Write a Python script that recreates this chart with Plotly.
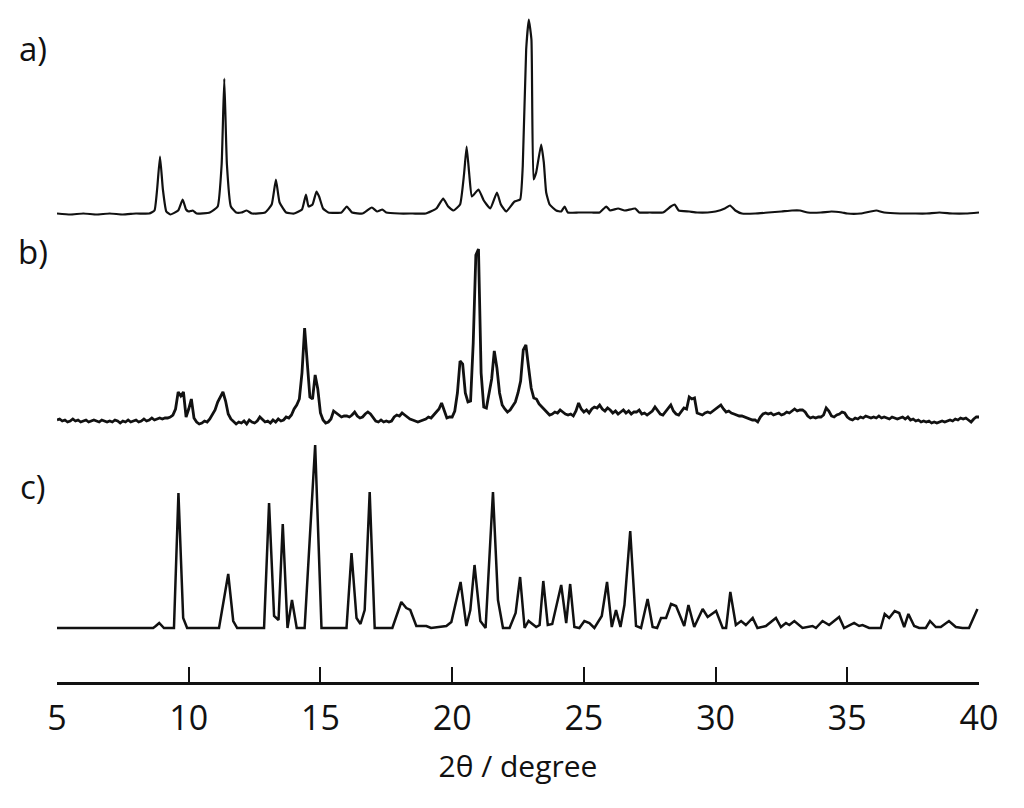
import numpy as np
import plotly.graph_objects as go

# ---------------- data (2theta in degree, intensity in arbitrary units) ----------------
# a) measured pattern
a_2theta = [5.0, 5.5, 6.0, 6.5, 7.0, 7.5, 8.0, 8.5, 8.7, 8.8, 8.91, 9.02, 9.15, 9.3, 9.6, 9.77, 9.9, 10.0,
            10.15, 10.3, 10.8, 11.1, 11.25, 11.35, 11.45, 11.6, 11.8, 12.0, 12.2, 12.4, 12.9, 13.15, 13.31,
            13.45, 13.7, 14.0, 14.3, 14.45, 14.55, 14.7, 14.85, 14.95, 15.1, 15.3, 15.8, 16.0, 16.2,
            16.6, 16.95, 17.15, 17.35, 17.5, 18.0, 18.5, 19.0, 19.4, 19.66, 19.85, 20.05, 20.3, 20.45,
            20.55, 20.65, 20.75, 21.0, 21.2, 21.45, 21.7, 21.85, 22.05, 22.37, 22.58, 22.68, 22.81, 22.91,
            23.01, 23.09, 23.19, 23.38, 23.48, 23.57, 23.7, 23.95, 24.14, 24.27, 24.39, 24.8, 25.3, 25.6,
            25.85, 26.0, 26.3, 26.55, 26.95, 27.1, 27.5, 28.0, 28.3, 28.45, 28.6, 29.0, 29.3, 29.7, 30.0,
            30.35, 30.55, 30.75, 31.0, 31.5, 32.0, 32.5, 32.9, 33.2, 33.5, 34.0, 34.4, 34.8, 35.0, 35.5,
            36.1, 36.4, 37.0, 37.5, 38.0, 38.5, 39.0, 39.5, 40.0]
a_intensity = [1, 0, 1, 0, 1, 0, 1, 1, 4, 25, 58, 25, 3, 0, 4, 15, 5, 3,
               4, 1, 2, 8, 50, 136, 50, 8, 2, 2, 4, 1, 2, 10, 35,
               12, 2, 1, 5, 20, 8, 10, 23, 18, 6, 2, 2, 8, 2,
               1, 7, 3, 5, 2, 1, 1, 1, 6, 16, 8, 4, 10, 40,
               68, 40, 18, 25, 14, 6, 22, 10, 3, 13, 15, 48, 165, 195,
               175, 35, 42, 70, 52, 22, 10, 4, 3, 8, 2, 2, 2, 2,
               8, 4, 6, 4, 6, 2, 2, 2, 8, 10, 4, 3, 2, 2, 3,
               6, 9, 4, 1, 1, 2, 3, 4, 4, 2, 2, 3, 2, 1, 1,
               4, 2, 1, 1, 1, 2, 1, 1, 2]

# b) measured pattern, read every 0.1 degree from 5.0 to 40.0
b_intensity = [
    3, 4, 2, 3, 1, 2, 4, 2, 3, 1,            # 5
    2, 3, 1, 2, 3, 2, 1, 3, 2, 1,            # 6
    2, 1, 3, 2, 0, 2, 1, 3, 1, 2,            # 7
    3, 1, 2, 4, 2, 3, 5, 3, 4, 5,            # 8
    4, 5, 5, 6, 8, 14, 31, 27, 31, 6,        # 9
    14, 24, 5, 1, -1, 0, 2, 1, 4, 8,         # 10
    13, 21, 26, 31, 22, 9, 4, 1, -1, 1,      # 11
    0, 2, -1, 3, 1, 0, 2, 6, 3, 1,           # 12
    2, 0, 3, 1, 4, 2, 3, 6, 5, 8,            # 13
    14, 18, 24, 50, 95, 62, 26, 24, 48, 34,  # 14
    10, 3, 0, 1, 4, 12, 10, 8, 6, 7,         # 15
    7, 6, 8, 11, 7, 5, 6, 9, 11, 9,          # 16
    6, 2, 1, 3, 1, 2, 1, 2, 6, 8,            # 17
    7, 10, 8, 6, 4, 3, 2, 1, 2, 3,           # 18
    4, 6, 5, 8, 11, 14, 20, 13, 5, 6,        # 19
    6, 12, 30, 62, 59, 30, 21, 22, 80, 168,  # 20
    174, 50, 16, 15, 30, 44, 72, 55, 30, 18, # 21
    14, 11, 13, 17, 21, 30, 42, 73, 78, 56,  # 22
    35, 25, 24, 19, 16, 13, 10, 8, 9, 11,    # 23
    10, 13, 11, 9, 8, 9, 7, 12, 20, 14,      # 24
    11, 13, 10, 14, 16, 15, 18, 14, 12, 15,  # 25
    13, 10, 12, 9, 11, 13, 10, 12, 9, 11,    # 26
    11, 13, 9, 10, 8, 10, 12, 16, 13, 9,     # 27
    8, 11, 15, 18, 12, 9, 8, 11, 15, 14,     # 28
    26, 24, 25, 10, 9, 8, 10, 11, 10, 12,    # 29
    14, 16, 18, 14, 11, 12, 10, 9, 8, 7,     # 30
    7, 6, 5, 4, 3, 3, 1, 6, 9, 10,           # 31
    9, 10, 8, 9, 10, 8, 9, 11, 10, 12,       # 32
    14, 12, 13, 13, 11, 7, 5, 6, 5, 6,       # 33
    6, 8, 15, 12, 7, 6, 8, 9, 11, 10,        # 34
    6, 4, 3, 5, 4, 6, 5, 7, 6, 5,            # 35
    6, 5, 7, 5, 6, 5, 4, 6, 5, 4,            # 36
    5, 6, 4, 6, 3, 4, 2, 3, 1, 2,            # 37
    1, 2, 0, 1, 0, 1, 2, 1, 2, 3,            # 38
    2, 4, 3, 5, 4, 5, 3, 1, 4, 6,            # 39
    6]                                       # 40
b_2theta = np.round(np.linspace(5.0, 40.0, len(b_intensity)), 2)

# c) calculated pattern
c_2theta = [5.0, 8.65, 8.75, 8.88, 9.06, 9.44, 9.61, 9.79, 9.94, 11.15, 11.5, 11.69, 11.84, 12.86, 13.05,
            13.24, 13.41, 13.57, 13.75, 13.92, 14.1, 14.4, 14.8, 15.04, 15.99, 16.18, 16.37, 16.52,
            16.68, 16.87, 17.06, 17.73, 18.07, 18.26, 18.41, 18.64, 19.02, 19.2, 19.78, 19.97, 20.32,
            20.54, 20.69, 20.85, 21.07, 21.27, 21.55, 21.74, 21.93, 22.18, 22.41, 22.58, 22.75, 22.9,
            23.19, 23.32, 23.46, 23.63, 23.8, 24.14, 24.33, 24.48, 24.64, 24.83, 25.02, 25.21, 25.4,
            25.68, 25.88, 26.06, 26.22, 26.39, 26.54, 26.76, 26.98, 27.17, 27.42, 27.61, 27.78, 27.93,
            28.12, 28.31, 28.5, 28.81, 28.97, 29.19, 29.51, 29.7, 30.02, 30.27, 30.4, 30.56, 30.77,
            30.97, 31.15, 31.41, 31.59, 31.91, 32.29, 32.48, 32.67, 32.8, 32.99, 33.3, 33.68, 33.81,
            34.06, 34.31, 34.69, 34.88, 35.26, 35.45, 35.58, 35.83, 36.27, 36.42, 36.59, 36.8, 36.97,
            37.16, 37.32, 37.54, 37.73, 37.98, 38.14, 38.36, 38.55, 38.86, 39.12, 39.37, 39.62, 39.94]
c_intensity = [0, 0, 2, 5, 0, 0, 135, 10, 0, 0, 54, 7, 0, 0, 125,
               12, 8, 104, 0, 28, 0, 0, 183, 0, 0, 75, 10, 4,
               18, 136, 0, 0, 26, 20, 18, 2, 2, 0, 2, 6, 46,
               2, 18, 63, 7, 0, 136, 28, 0, 0, 15, 51, 0, 7,
               1, 3, 47, 3, 4, 43, 5, 44, 1, 0, 7, 5, 0,
               12, 46, 1, 18, 1, 23, 97, 2, 0, 29, 1, 0, 10,
               10, 24, 22, 2, 23, 1, 19, 11, 17, 0, 0, 36, 3,
               7, 3, 10, 0, 2, 10, 1, 5, 3, 7, 0, 2, 0,
               7, 3, 11, 0, 5, 2, 3, 0, 0, 14, 10, 17, 15,
               1, 14, 2, 0, 0, 7, 1, 1, 7, 1, 0, 0, 19]

labels = ["a)", "b)", "c)"]
x_ticks = [5, 10, 15, 20, 25, 30, 35, 40]
x_title = "2θ / degree"

# ---------------- styling / layout ----------------
offsets = {"a)": 467.5, "b)": 259, "c)": 54}
FONT = "Open Sans"

fig = go.Figure()
fig.add_trace(go.Scatter(x=a_2theta, y=np.array(a_intensity) + offsets["a)"], mode="lines",
                         line=dict(color="#111111", width=2.2, shape="spline", smoothing=0.4),
                         showlegend=False, hoverinfo="skip"))
fig.add_trace(go.Scatter(x=b_2theta, y=np.array(b_intensity) + offsets["b)"], mode="lines",
                         line=dict(color="#111111", width=2.8), showlegend=False, hoverinfo="skip"))
fig.add_trace(go.Scatter(x=c_2theta, y=np.array(c_intensity) + offsets["c)"], mode="lines",
                         line=dict(color="#111111", width=2.5), showlegend=False, hoverinfo="skip"))

label_y = {"a)": 0.943, "b)": 0.640, "c)": 0.291}
for lab in labels:
    fig.add_annotation(text=lab, xref="paper", yref="paper", x=-0.026, y=label_y[lab],
                       showarrow=False, xanchor="center", yanchor="middle",
                       font=dict(family=FONT, size=33, color="#111111"))

fig.update_layout(
    width=1024, height=808,
    margin=dict(l=49, r=53, t=2, b=134),
    paper_bgcolor="white", plot_bgcolor="white",
    font=dict(family=FONT, color="#111111"),
)
fig.update_xaxes(range=[5, 40], showgrid=False, zeroline=False,
                 showline=True, linecolor="#111111", linewidth=3,
                 ticks="inside", ticklen=15, tickwidth=2, tickcolor="#111111",
                 tickvals=x_ticks, ticktext=[str(t) for t in x_ticks],
                 tickfont=dict(family=FONT, size=34, color="#111111"),
                 ticklabelstandoff=4,
                 title=dict(text=x_title, font=dict(family=FONT, size=30, color="#111111"), standoff=18))
fig.update_yaxes(range=[0, 672], visible=False, showgrid=False, zeroline=False)

fig.write_html("out.html")
